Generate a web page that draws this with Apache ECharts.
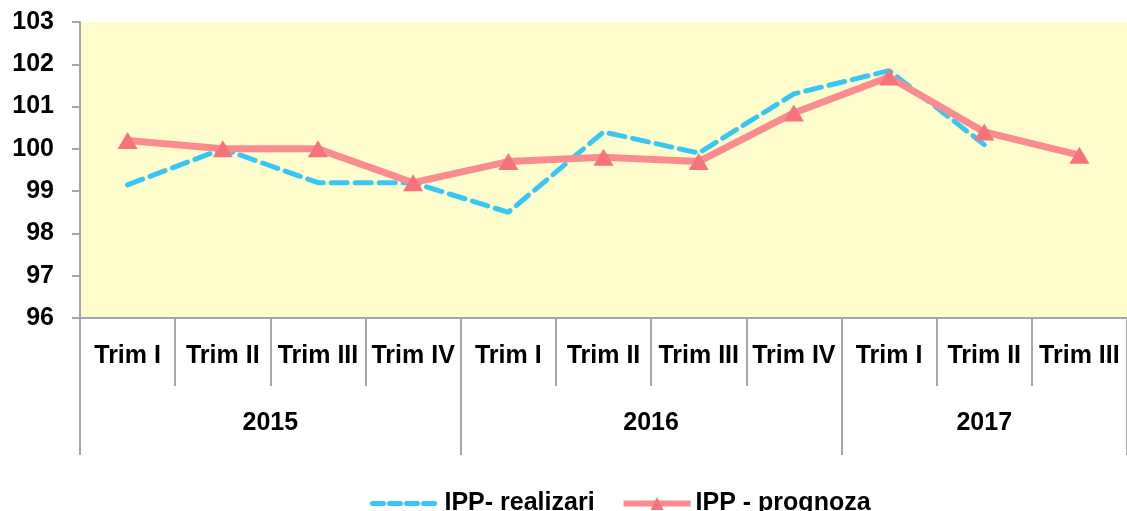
<!DOCTYPE html>
<html lang="ro">
<head>
  <meta charset="UTF-8">
  <title>IPP</title>
  <script src="https://cdn.jsdelivr.net/npm/echarts@6/dist/echarts.min.js"></script>
  <style>
    html, body { margin: 0; padding: 0; background: #fff; }
    #chart { width: 1127px; height: 511px; }
  </style>
</head>
<body>
  <div id="chart"></div>
  <script>
    // date
    var quarters = ['Trim I', 'Trim II', 'Trim III', 'Trim IV', 'Trim I', 'Trim II', 'Trim III', 'Trim IV', 'Trim I', 'Trim II', 'Trim III'];
    var years = ['2015', '2016', '2017'];
    var yearBounds = [0, 4, 8, 11];
    var yearCenters = [2, 6, 9.5];
    var realizari = [99.15, 100.0, 99.2, 99.2, 98.5, 100.4, 99.9, 101.3, 101.85, 100.1, null];
    var prognoza = [100.2, 100.0, 100.0, 99.2, 99.7, 99.8, 99.7, 100.85, 101.7, 100.4, 99.85];

    var font = 'Liberation Sans, Arial, sans-serif';
    var gray = '#A6A6A6';

    var myChart = echarts.init(document.getElementById('chart'));
    var option = {
      animation: false,
      grid: {
        left: 80,
        top: 22,
        bottom: 193,
        width: 1053,
        show: true,
        backgroundColor: '#FFFDCC',
        borderWidth: 0
      },
      legend: {
        left: 365,
        top: 486,
        itemWidth: 67,
        itemHeight: 16,
        itemGap: 26,
        textStyle: { fontFamily: font, fontSize: 25, fontWeight: 'bold', color: '#000' },
        data: [
          { name: 'IPP- realizari', itemStyle: { opacity: 0 }, lineStyle: { width: 5, type: [11, 6] } },
          { name: 'IPP - prognoza', lineStyle: { width: 6 } }
        ]
      },
      xAxis: [{
        type: 'category',
        data: quarters,
        boundaryGap: true,
        axisLine: { show: true, lineStyle: { color: gray, width: 2 } },
        axisTick: { show: true, interval: 0, length: 68, lineStyle: { color: gray, width: 2 } },
        axisLabel: { interval: 0, margin: 26, color: '#000', fontFamily: font, fontSize: 25, fontWeight: 'bold' }
      }, {
        type: 'value',
        min: 0,
        max: 11,
        position: 'bottom',
        axisLine: { show: false },
        splitLine: { show: false },
        axisTick: { show: true, length: 137, customValues: yearBounds, lineStyle: { color: gray, width: 2 } },
        axisLabel: {
          margin: 93,
          customValues: yearCenters,
          color: '#000',
          fontFamily: font,
          fontSize: 25,
          fontWeight: 'bold',
          formatter: function (v) {
            return years[yearCenters.indexOf(v)];
          }
        }
      }],
      yAxis: {
        type: 'value',
        min: 96,
        max: 103,
        interval: 1,
        axisLine: { show: true, lineStyle: { color: gray, width: 2 } },
        axisTick: { show: true, length: 8, lineStyle: { color: gray, width: 2 } },
        splitLine: { show: false },
        axisLabel: { margin: 26, color: '#000', fontFamily: font, fontSize: 25, fontWeight: 'bold' }
      },
      series: [{
        name: 'IPP- realizari',
        type: 'line',
        data: realizari,
        symbol: 'none',
        lineStyle: { color: '#38C6F4', width: 5, type: [16, 8], cap: 'round' },
        itemStyle: { color: '#38C6F4' }
      }, {
        name: 'IPP - prognoza',
        type: 'line',
        data: prognoza,
        symbol: 'triangle',
        symbolSize: [20, 17],
        lineStyle: { color: '#FA8C90', width: 7 },
        itemStyle: { color: '#F7737B' }
      }]
    };
    myChart.setOption(option);
  </script>
</body>
</html>
